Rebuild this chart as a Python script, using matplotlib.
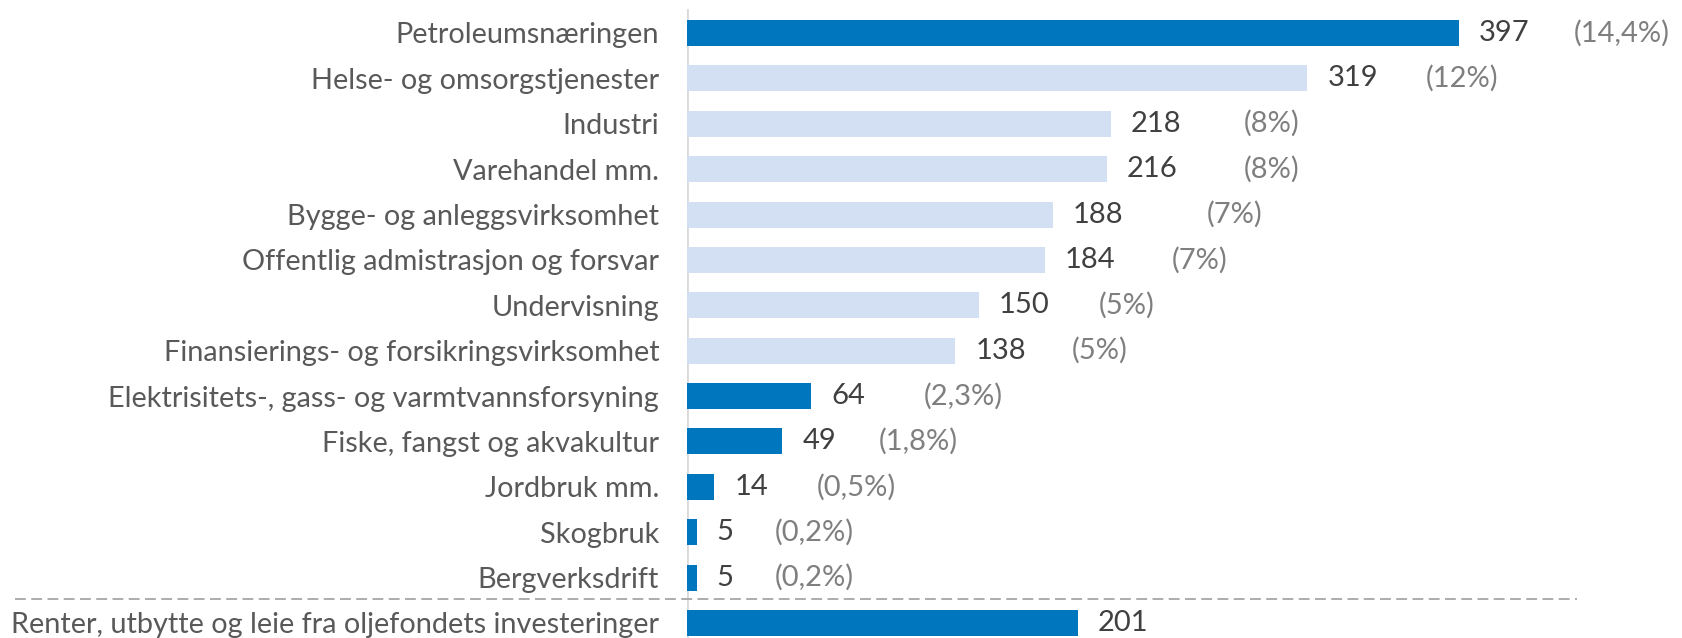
import matplotlib
matplotlib.use("Agg")
import matplotlib.pyplot as plt
from matplotlib.lines import Line2D

plt.rcParams['font.family'] = ['Lato', 'DejaVu Sans']

# data (milliarder kr, andel)
kategorier = ["Petroleumsnæringen", "Helse- og omsorgstjenester", "Industri",
              "Varehandel mm.", "Bygge- og anleggsvirksomhet",
              "Offentlig admistrasjon og forsvar", "Undervisning",
              "Finansierings- og forsikringsvirksomhet",
              "Elektrisitets-, gass- og varmtvannsforsyning",
              "Fiske, fangst og akvakultur", "Jordbruk mm.", "Skogbruk",
              "Bergverksdrift", "Renter, utbytte og leie fra oljefondets investeringer"]
verdier = [397, 319, 218, 216, 188, 184, 150, 138, 64, 49, 14, 5, 5, 201]
andel = ["(14,4%)", "(12%)", "(8%)", "(8%)", "(7%)", "(7%)", "(5%)", "(5%)",
         "(2,3%)", "(1,8%)", "(0,5%)", "(0,2%)", "(0,2%)", ""]
mork = [True, False, False, False, False, False, False, False,
        True, True, True, True, True, True]

# label placement (px from bar end)
pct_off = [115, 118, 133, 137, 154, 127, 120, 116, 112, 96, 103, 78, 78, 0]

DARK = "#0076BF"
LIGHT = "#D3DFF2"

W, H = 1682, 638
fig = plt.figure(figsize=(W / 100, H / 100), dpi=100)
ax = fig.add_axes([687 / W, 0, 1 - 687 / W, 1])

pxu = 1.945  # px per unit
ax.set_xlim(0, (W - 687) / pxu)
step = 45.38
ax.set_ylim((H - 33) / step, -33 / step)

y = list(range(len(verdier)))
farger = [DARK if m else LIGHT for m in mork]
ax.barh(y, verdier, height=0.573, color=farger, zorder=2)

for i, v in enumerate(verdier):
    ax.annotate(str(v), (v, i), xytext=(20 * 0.72, 0), textcoords="offset points",
                ha="left", va="center", fontsize=21, color="#404040")
    if andel[i]:
        ax.annotate(andel[i], (v, i), xytext=(pct_off[i] * 0.72, 0),
                    textcoords="offset points", ha="left", va="center",
                    fontsize=21, color="#7F7F7F")

ax.set_yticks(y)
ax.set_yticklabels(kategorier, fontsize=20.8, color="#595959")
ax.tick_params(axis="y", length=0, pad=20)
ax.set_xticks([])
for s in ax.spines.values():
    s.set_visible(False)
ax.axvline(0, ymin=0, ymax=1 - 10 / H, color="#D9D9D9", lw=2, zorder=1)

# skillelinje
fig.add_artist(Line2D([15 / W, 1577 / W], [1 - 599 / H, 1 - 599 / H],
                      transform=fig.transFigure, color="#A6A6A6", lw=1.3,
                      linestyle=(0, (6, 3))))

fig.savefig("out.png", dpi=100)
